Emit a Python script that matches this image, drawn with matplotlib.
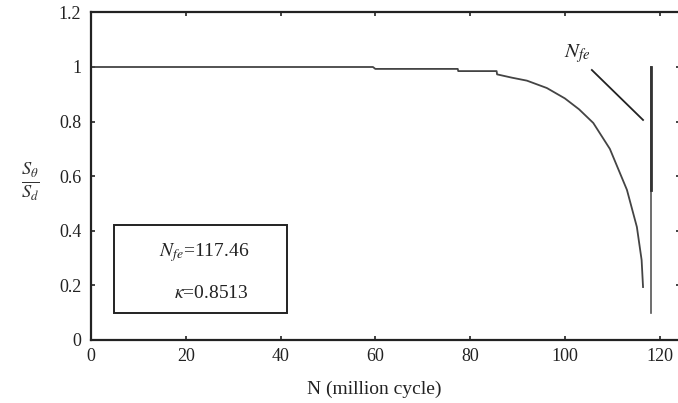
import matplotlib
matplotlib.use("Agg")
import matplotlib.pyplot as plt
from matplotlib.patches import Rectangle

plt.rcParams['font.family'] = ['Liberation Serif', 'DejaVu Serif']
plt.rcParams['mathtext.fontset'] = 'stix'

# Data
n_cycles = [0, 30, 59.5, 60, 77.4, 77.5, 85.6, 85.7, 88.8, 92.0, 96.2, 100.0, 103.0,
            106.0, 109.5, 113.1, 115.2, 116.2, 116.5]
ratio = [1.0, 1.0, 1.0, 0.993, 0.993, 0.985, 0.985, 0.973, 0.961, 0.950, 0.923, 0.885,
         0.845, 0.795, 0.700, 0.550, 0.414, 0.293, 0.194]
nfe_x = [118.1, 118.1]
nfe_y_full = [0.10, 1.0]
nfe_y_thick = [0.55, 1.0]
pointer_x = [105.7, 116.5]
pointer_y = [0.989, 0.806]
xticks = [0, 20, 40, 60, 80, 100, 120]
yticks = [0, 0.2, 0.4, 0.6, 0.8, 1.0, 1.2]
xtick_labels = ['0', '20', '40', '60', '80', '100', '120']
ytick_labels = ['0', '0.2', '0.4', '0.6', '0.8', '1', '1.2']

W, H = 678, 403
fig = plt.figure(figsize=(W / 100, H / 100), dpi=100)
ax = fig.add_axes([91 / W, 1 - 340 / H, (680 - 91) / W, (340 - 12.4) / H])

ax.plot(n_cycles, ratio, color='#444444', lw=1.3)
ax.plot(nfe_x, nfe_y_full, color='#555555', lw=1.2)
ax.plot(nfe_x, nfe_y_thick, color='#333333', lw=2.0)
ax.plot(pointer_x, pointer_y, color='#222222', lw=1.3)

ax.text(102.7, 1.05, r'$N_{fe}$', fontsize=15, ha='center', va='center', color='#222222')

ax.add_patch(Rectangle((4.85, 0.10), 41.4 - 4.85, 0.42 - 0.10, fill=False,
                       edgecolor='#222222', lw=1.4))
ax.text(23.8, 0.322, r'$N_{fe}$=117.46', fontsize=14, ha='center', va='center', color='#222222')
ax.text(25.3, 0.172, r'$\kappa$=0.8513', fontsize=14, ha='center', va='center', color='#222222')

ax.set_xlim(0, 124.3)
ax.set_ylim(0, 1.2)
ax.set_xticks(xticks)
ax.set_xticklabels(xtick_labels)
ax.set_yticks(yticks)
ax.set_yticklabels(ytick_labels)
ax.tick_params(direction='in', length=3, width=1.2, top=True, right=True,
               labelsize=13, colors='#222222')
ax.tick_params(axis='x', pad=6)
ax.tick_params(axis='y', pad=7)
for s in ax.spines.values():
    s.set_linewidth(1.6)
    s.set_color('#222222')

fig.text(374 / W, 1 - 389 / H, 'N (million cycle)', fontsize=14, ha='center', va='center',
         color='#222222')
fig.text(30 / W, 1 - 182 / H, r'$\frac{S_\theta}{S_d}$', fontsize=19, ha='center',
         va='center', color='#333333')

fig.savefig('out.png', dpi=100)
